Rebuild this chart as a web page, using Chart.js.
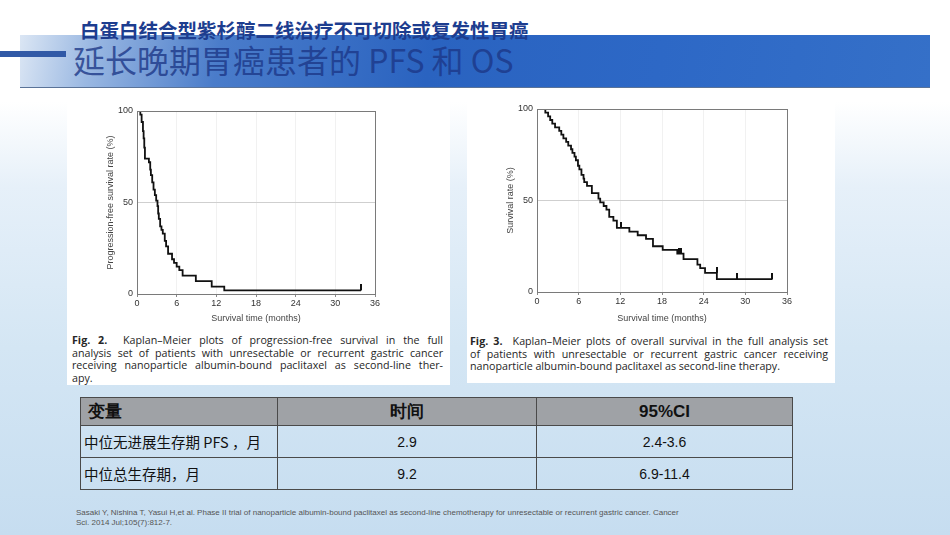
<!DOCTYPE html>
<html>
<head>
<meta charset="utf-8">
<script src="https://cdn.jsdelivr.net/npm/chart.js@4.4.0/dist/chart.umd.min.js"></script>
<style>
  html, body { margin: 0; padding: 0; }
  body {
    width: 950px; height: 535px; position: relative; overflow: hidden;
    font-family: "Liberation Sans", Arial, sans-serif;
    background: linear-gradient(180deg, #ffffff 0%, #ffffff 19%, #e6f0f9 35%, #d4e6f4 65%, #c6ddf0 100%);
  }
  .sub {
    position: absolute; left: 80px; top: 18px; margin: 0;
    font: bold 19.5px "Noto Sans CJK SC", sans-serif; line-height: 24px;
    color: #1d3d8f; z-index: 3; white-space: nowrap;
  }
  .banner {
    position: absolute; left: 20px; top: 35px; width: 910px; height: 52px;
    background: linear-gradient(100deg, #dbe6f4 0%, #9ab8e2 8%, #4a7cca 22%, #2a63c0 45%, #2d68c6 70%, #3570c8 100%);
    border-bottom: 1px solid #5a7398; z-index: 1;
  }
  .bar { position: absolute; left: 0; top: 51px; width: 66px; height: 6px; background: #3159a6; z-index: 2; }
  .main {
    position: absolute; left: 73px; top: 41px; margin: 0;
    font: 32px "Noto Sans CJK SC", sans-serif; line-height: 36px;
    color: rgba(28, 55, 135, 0.8); z-index: 3; white-space: nowrap;
  }
  .panel { position: absolute; background: #fff; }
  .box { position: absolute; }
  .cap {
    position: absolute; font-family: "Open Sans", sans-serif; font-size: 10.7px; line-height: 12.5px; color: #262626;
  }
  .cap div { text-align: justify; text-align-last: justify; white-space: nowrap; }
  .cap div.last { text-align-last: left; }
  table {
    position: absolute; left: 80px; top: 397px; width: 713px;
    border-collapse: collapse; font-family: "Liberation Sans Narrow", "Liberation Sans", Arial, sans-serif;
  }
  td, th { border: 1px solid #4a4a4a; padding: 0 3px; color: #111; }
  th { background: #9fa2a6; height: 27px; font-size: 17px; font-weight: bold; }
  td { height: 31px; font-size: 14px; text-align: center; }
  td.lab { text-align: left; font-family: "Noto Sans CJK SC", sans-serif; font-size: 14.5px; }
  .foot {
    position: absolute; left: 76px; top: 508px; font-size: 8px; line-height: 9.5px; color: #555;
    white-space: nowrap;
  }
</style>
</head>
<body>
<div class="bar"></div>
<div class="banner"></div>
<p class="sub">白蛋白结合型紫杉醇二线治疗不可切除或复发性胃癌</p>
<p class="main">延长晚期胃癌患者的 PFS 和 OS</p>

<div class="panel" style="left:67px;top:96px;width:383px;height:289px;"></div>
<div class="panel" style="left:467px;top:96px;width:368px;height:287px;"></div>

<div class="box" style="left:67px;top:96px;width:355px;height:235px;"><canvas id="pfs"></canvas></div>
<div class="box" style="left:467px;top:96px;width:368px;height:235px;"><canvas id="os"></canvas></div>

<div class="cap" style="left:72px;top:334px;width:371px;">
  <div><b>Fig. 2.</b>&nbsp; Kaplan–Meier plots of progression-free survival in the full</div>
  <div>analysis set of patients with unresectable or recurrent gastric cancer</div>
  <div>receiving nanoparticle albumin-bound paclitaxel as second-line ther-</div>
  <div class="last">apy.</div>
</div>
<div class="cap" style="left:470px;top:335px;width:358px;">
  <div><b>Fig. 3.</b>&nbsp; Kaplan–Meier plots of overall survival in the full analysis set</div>
  <div>of patients with unresectable or recurrent gastric cancer receiving</div>
  <div class="last">nanoparticle albumin-bound paclitaxel as second-line therapy.</div>
</div>

<table id="tbl"></table>

<div class="foot">Sasaki Y, Nishina T, Yasui H,et al. Phase II trial of nanoparticle albumin-bound paclitaxel as second-line chemotherapy for unresectable or recurrent gastric cancer. Cancer<br>Sci. 2014 Jul;105(7):812-7.</div>

<script>
// progression-free survival (months, %)
const pfsMonths = [0, 0.5, 0.7, 0.9, 1.0, 1.1, 1.2, 1.8, 2.0, 2.1, 2.3, 2.5, 2.7, 2.9, 3.1, 3.2, 3.3, 3.5, 3.7, 3.9, 4.2, 4.4, 4.7, 5.3, 5.6, 6.0, 6.4, 6.9, 8.9, 11.3, 13.2, 33.9];
const pfsRate   = [100, 98, 94, 89, 85, 80, 74, 72, 68, 65, 61, 57, 54, 51, 48, 44, 41, 37, 35, 33, 29, 26, 22, 19, 17, 15, 13, 10, 7, 4, 2, 2];
const pfsCensorMonths = [33.9];
const pfsCensorRate   = [2];

// overall survival (months, %)
const osMonths = [0, 1.2, 1.6, 1.9, 2.2, 2.6, 3.2, 3.5, 3.8, 4.2, 4.5, 4.9, 5.1, 5.4, 5.6, 5.9, 6.1, 6.4, 6.7, 6.8, 7.2, 7.9, 8.85, 9.1, 9.6, 10.0, 10.4, 11.0, 11.5, 13.3, 14.5, 15.7, 16.7, 18.1, 20.2, 21.1, 23.1, 23.5, 24.2, 25.9, 33.9];
const osRate   = [100, 98, 96, 94, 92, 90, 88, 86, 84, 82, 80, 78, 76, 74, 72, 69, 67, 64, 62, 60, 58, 54, 51, 49, 47, 45, 41, 39, 35, 33, 31, 29, 25, 23, 21, 18, 15, 13, 10.5, 7, 7];
const osCensorMonths = [12.1, 20.5, 20.8, 25.9, 28.8, 33.9];
const osCensorRate   = [35, 21, 21, 10.5, 7, 7];

const xTicks = [0, 6, 12, 18, 24, 30, 36];
const yTicks = [0, 50, 100];

// table
const tblHead = ["变量", "时间", "95%CI"];
const tblLabels = ["中位无进展生存期 PFS ，月", "中位总生存期，月"];
const tblMedian = ["2.9", "9.2"];
const tblCI = ["2.4-3.6", "6.9-11.4"];

let html = "<tr><th style='text-align:left;padding-left:7px;width:186px'>" + tblHead[0] + "</th><th style='width:252px'>" + tblHead[1] + "</th><th>" + tblHead[2] + "</th></tr>";
tblLabels.forEach((l, i) => {
  html += "<tr><td class='lab'>" + l + "</td><td>" + tblMedian[i] + "</td><td>" + tblCI[i] + "</td></tr>";
});
document.getElementById("tbl").innerHTML = html;

// small censor tick sitting on top of the curve
const tick = document.createElement("canvas");
tick.width = 2; tick.height = 12;
const tctx = tick.getContext("2d");
tctx.fillStyle = "#111";
tctx.fillRect(0, 0, 2, 6);

const frame = {
  id: "frame",
  afterDraw(chart) {
    const { ctx, chartArea: a } = chart;
    ctx.save();
    ctx.strokeStyle = "#7a7a7a";
    ctx.lineWidth = 1;
    ctx.strokeRect(a.left + 0.5, a.top + 0.5, a.right - a.left, a.bottom - a.top);
    ctx.restore();
  },
};

function toXY(xs, ys) {
  return xs.map((x, i) => ({ x: x, y: ys[i] }));
}

function kmChart(id, months, rate, cMonths, cRate, yTitle, pad) {
  new Chart(document.getElementById(id), {
    type: "scatter",
    data: {
      datasets: [
        {
          data: toXY(months, rate),
          showLine: true,
          stepped: true,
          borderColor: "#111",
          borderWidth: 1.8,
          pointRadius: 0,
        },
        {
          data: toXY(cMonths, cRate),
          pointStyle: tick,
          pointRadius: 3,
        },
      ],
    },
    options: {
      responsive: true,
      maintainAspectRatio: false,
      animation: false,
      layout: { padding: { left: pad.left, right: pad.right, top: pad.top, bottom: pad.bottom } },
      plugins: { legend: { display: false }, tooltip: { enabled: false } },
      scales: {
        x: {
          type: "linear",
          min: 0, max: 36,
          afterBuildTicks: (s) => { s.ticks = xTicks.map((v) => ({ value: v })); },
          afterFit: (s) => { s.height = pad.xh; },
          grid: { color: "#f1f1f1", tickColor: "#888", tickLength: 3, drawTicks: true },
          border: { color: "#7a7a7a" },
          ticks: { color: "#333", font: { size: 9, family: "Liberation Sans" }, padding: 1 },
          title: { display: true, text: "Survival time (months)", color: "#444", font: { size: 9, family: "Liberation Sans" }, padding: { top: 3, bottom: 0 } },
        },
        y: {
          min: 0, max: 100,
          afterBuildTicks: (s) => { s.ticks = yTicks.map((v) => ({ value: v })); },
          afterFit: (s) => { s.width = 32; },
          grid: { color: (c) => (c.tick && c.tick.value === 50 ? "#cfcfcf" : "rgba(0,0,0,0)"), drawTicks: false },
          border: { color: "#7a7a7a" },
          ticks: { color: "#333", font: { size: 9, family: "Liberation Sans" }, padding: 4 },
          title: { display: true, text: yTitle, color: "#444", font: { size: 9, family: "Liberation Sans" }, padding: 0 },
        },
      },
    },
    plugins: [frame],
  });
}

kmChart("pfs", pfsMonths, pfsRate, pfsCensorMonths, pfsCensorRate, "Progression-free survival rate (%)", { left: 38, right: 47, top: 15, bottom: 7, xh: 30 });
kmChart("os", osMonths, osRate, osCensorMonths, osCensorRate, "Survival rate (%)", { left: 38, right: 48, top: 13, bottom: 7, xh: 32 });
</script>
</body>
</html>
